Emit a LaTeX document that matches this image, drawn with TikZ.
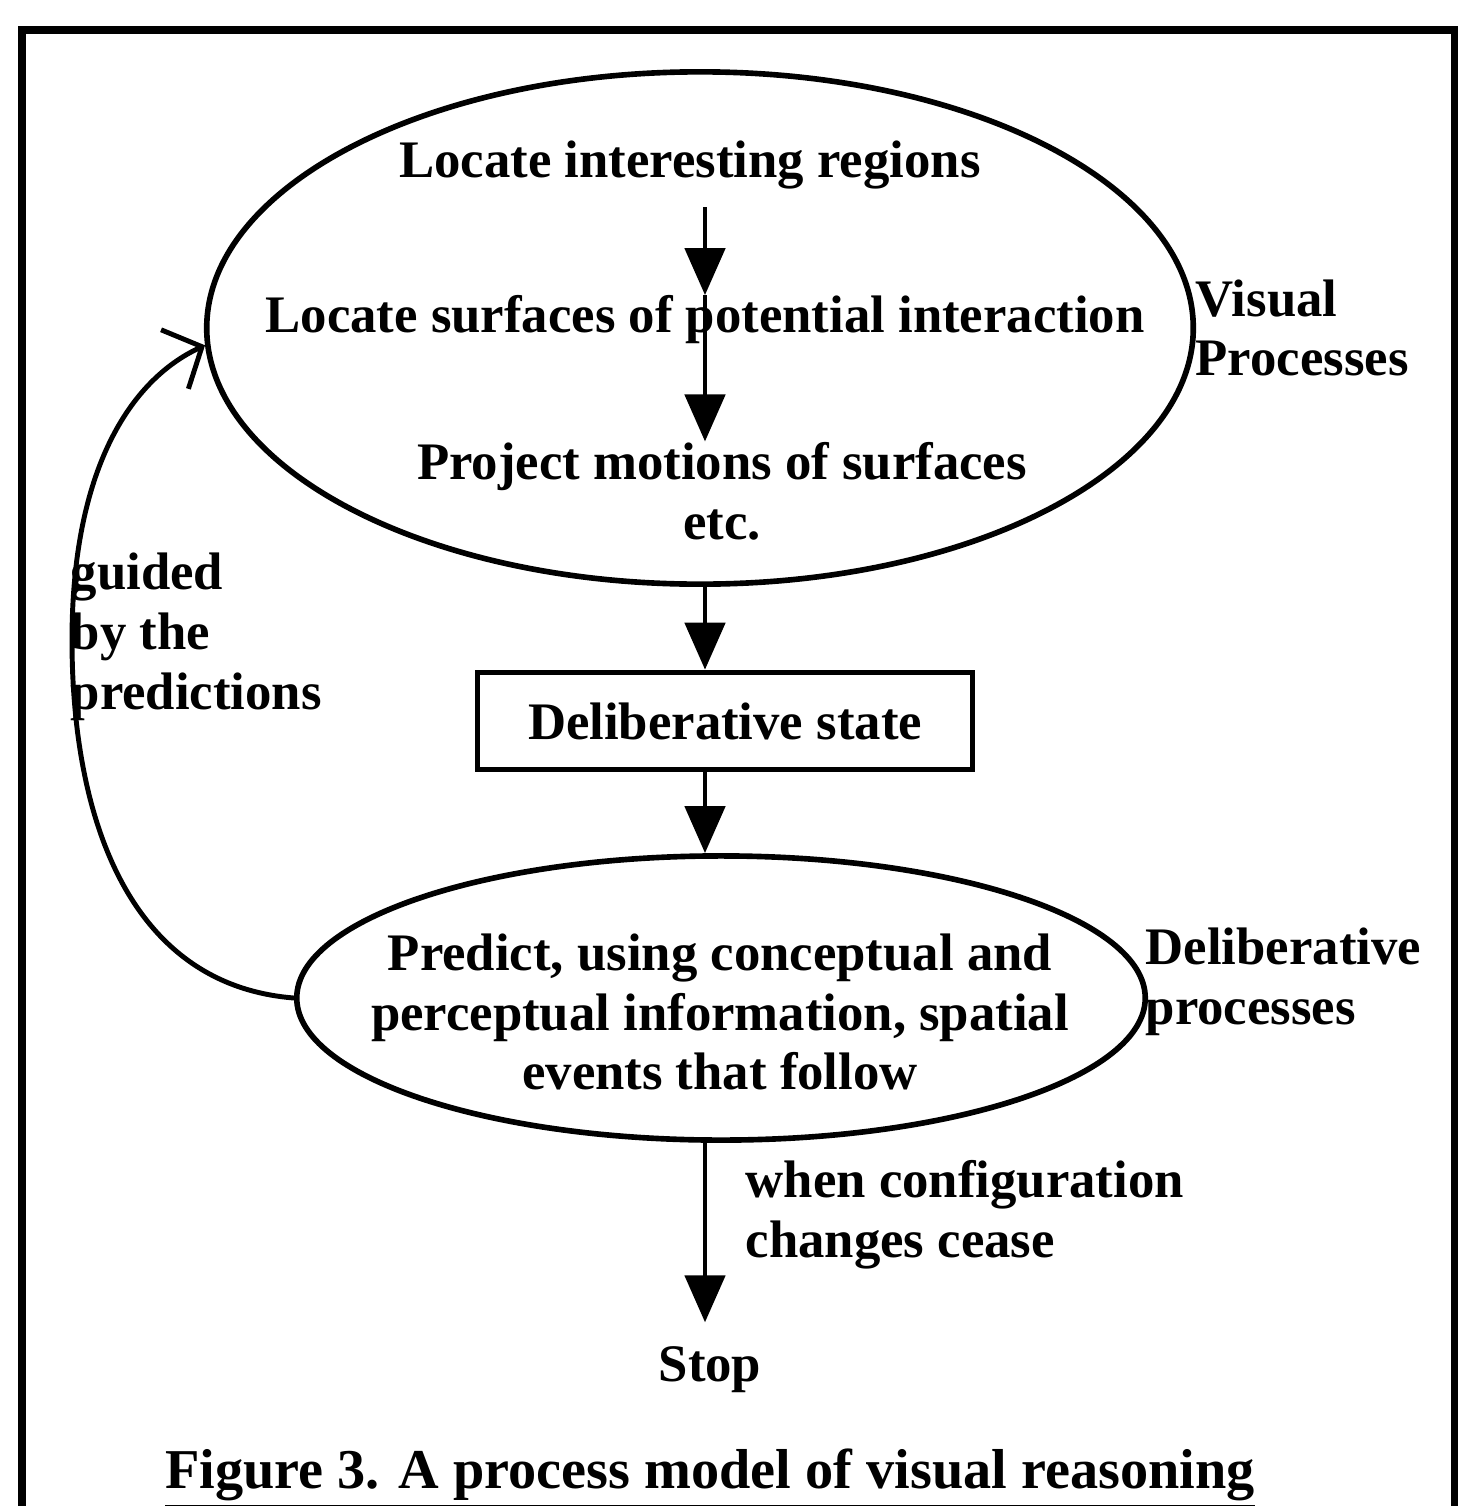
\documentclass[tikz,border=0pt]{standalone}
\usepackage{fontspec}
\setmainfont{Liberation Serif}
\usetikzlibrary{arrows.meta,positioning,shapes.geometric,calc}
\tikzset{
  elipse/.style={draw, ellipse, line width=1.6pt, inner sep=0pt},
  caja/.style={draw, line width=1.6pt, inner sep=0pt, font=\fontsize{15}{17}\selectfont\bfseries},
  texto/.style={align=center, inner sep=0pt, font=\fontsize{15}{17}\selectfont\bfseries},
  etiqueta/.style={align=left, anchor=west, inner sep=0pt, font=\fontsize{15}{17}\selectfont\bfseries},
  arrdown/.style={-{Triangle[width=4mm,length=4.7mm]}, line width=1.4pt},
  arrloop/.style={-{Straight Barb[length=3mm,width=6.5mm]}, line width=1.4pt},
  marco/.style={line width=2.2pt},
}
\begin{document}
\begin{tikzpicture}[x=0.01cm, y=-0.01cm]
\useasboundingbox (0,0) rectangle (1457,1506);
\draw[marco] (22,1506) -- (22,30) -- (1455,30) -- (1455,1506);
\coordinate (eje) at (705,0);

% procesos visuales
\node[elipse, minimum width=9.86cm, minimum height=5.12cm] (vis) at (700,328) {};
\node[texto] (loc1) at (690,165) {Locate interesting regions};
\node[texto] (loc2) at (705,320) {Locate surfaces of potential interaction};
\node[texto] (proy) at (722,491) {Project motions of surfaces\\etc.};
\node[etiqueta] (lvis) at (1195,328) {Visual\\Processes};

\node[caja, minimum width=4.95cm, minimum height=0.97cm] (estado) at (725,721) {Deliberative state};

% procesos deliberativos
\node[elipse, minimum width=8.48cm, minimum height=2.84cm] (pred) at (721,998) {};
\node[texto] (predt) at (720,1012) {Predict, using conceptual and\\perceptual information, spatial\\events that follow};
\node[etiqueta] (ldel) at (1145,982) {Deliberative\\processes};

\node[texto] (stop) at (710,1370) {Stop};
\node[etiqueta] (cond) at (745,1215) {when configuration\\changes cease};
\node[etiqueta] (guia) at (70,637) {guided\\by the\\predictions};
\node[texto, font=\fontsize{16}{19}\selectfont\bfseries] (titulo) at (710,1478) {\underline{Figure 3. A process model of visual reasoning}};

\draw[arrdown, shorten <=5pt] (loc1.south -| eje) -- (loc2.north -| eje);
\draw[arrdown] (loc2.north -| eje) -- (proy.north -| eje);
\draw[arrdown] (vis.south -| eje) -- (estado.north -| eje);
\draw[arrdown] (estado.south -| eje) -- (pred.north -| eje);
\draw[arrdown, shorten >=6.8pt] (pred.south -| eje) -- (stop.north -| eje);
\draw[arrloop] (pred.west) .. controls (130,985) and (72,820) .. (72,640)
  .. controls (72,470) and (130,380) .. (vis.182);
\end{tikzpicture}
\end{document}
